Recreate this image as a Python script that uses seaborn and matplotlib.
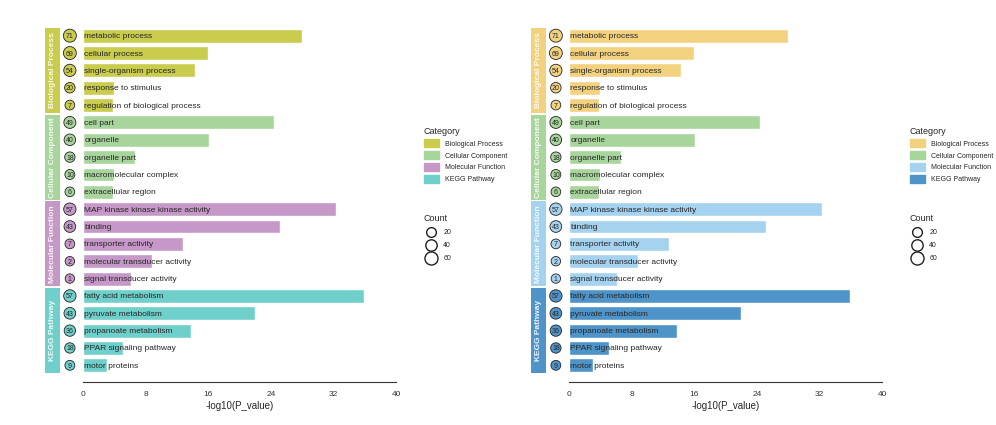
import pandas as pd
import numpy as np
import seaborn as sns
import matplotlib.pyplot as plt
from matplotlib.patches import Patch, Rectangle
from matplotlib.lines import Line2D
import matplotlib.transforms as mtrans

categories = ['Biological Process'] * 5 + ['Cellular Component'] * 5 + \
             ['Molecular Function'] * 5 + ['KEGG Pathway'] * 5
terms = ['metabolic process', 'cellular process', 'single-organism process',
         'response to stimulus', 'regulation of biological process',
         'cell part', 'organelle', 'organelle part', 'macromolecular complex',
         'extracellular region',
         'MAP kinase kinase kinase activity', 'binding', 'transporter activity',
         'molecular transducer activity', 'signal transducer activity',
         'fatty acid metabolism', 'pyruvate metabolism', 'propanoate metabolism',
         'PPAR signaling pathway', 'motor proteins']
log_p = [28.0, 16.0, 14.3, 4.0, 3.8,
         24.4, 16.1, 6.6, 4.0, 3.8,
         32.3, 25.2, 12.8, 8.8, 6.1,
         35.9, 22.0, 13.8, 5.1, 3.1]
counts = [71, 69, 54, 20, 7,
          49, 40, 18, 10, 6,
          57, 43, 7, 2, 1,
          57, 43, 36, 18, 9]
cat_order = ['Biological Process', 'Cellular Component', 'Molecular Function', 'KEGG Pathway']

df = pd.DataFrame({'Category': categories, 'Term': terms, 'logP': log_p, 'Count': counts})

pal1 = ['#c9cc4c', '#a8d59c', '#c598c8', '#6fcfcb']
pal2 = ['#f3d27f', '#a8d59c', '#a5d2ef', '#4f94c8']

sns.set_style('white')
plt.rcParams['font.family'] = ['Liberation Sans', 'DejaVu Sans']

fig = plt.figure(figsize=(9.96, 4.25), dpi=100)


def size_of(c):
    return 45 + c * 0.6


def panel(left_px, pal):
    W, H = 996, 425
    ax = fig.add_axes([left_px / W, 1 - 374 / H, 313 / W, 347 / H])
    sns.barplot(data=df, y='Term', x='logP', hue='Category', hue_order=cat_order,
                palette=pal, dodge=False, width=0.8, legend=False, ax=ax,
                saturation=1)
    ax.set_xlim(0, 40)
    ax.set_ylim(len(df) - 0.5, -0.5)
    ax.set_xticks([0, 8, 16, 24, 32, 40])
    ax.tick_params(axis='x', labelsize=6, length=3, color='#333333', colors='#333333')
    ax.set_yticks([])
    ax.set_ylabel('')
    ax.set_xlabel('-log10(P_value)', fontsize=7, labelpad=2)
    for s in ['top', 'right', 'left']:
        ax.spines[s].set_visible(False)
    ax.spines['bottom'].set_position(('outward', 6))
    ax.spines['bottom'].set_color('#333333')

    cmap = dict(zip(cat_order, pal))
    for i, row in df.iterrows():
        ax.text(0.15, i, row['Term'], va='center_baseline', ha='left', fontsize=6)
    trans = mtrans.blended_transform_factory(ax.transAxes, ax.transData)
    ax.scatter(np.full(len(df), -0.042), np.arange(len(df)), transform=trans,
               s=[size_of(c) for c in df['Count']],
               c=[cmap[c] for c in df['Category']], edgecolors='#222222',
               linewidths=0.6, clip_on=False, zorder=5)
    for i, row in df.iterrows():
        ax.text(-0.042, i, str(row['Count']), transform=trans, ha='center',
                va='center_baseline', fontsize=5, zorder=6)
    for k, cat in enumerate(cat_order):
        ax.add_patch(Rectangle((-0.121, k * 5 - 0.45), 0.048, 4.9, transform=trans,
                               color=pal[k], clip_on=False, lw=0))
        ax.text(-0.097, k * 5 + 2, cat, transform=trans, rotation=90,
                ha='center', va='center', color='white', fontsize=6,
                fontweight='bold', alpha=0.9)

    h1 = [Patch(color=p, label=c) for p, c in zip(pal, cat_order)]
    leg1 = ax.legend(handles=h1, title='Category', loc='upper left',
                     bbox_to_anchor=(1.08, 0.72), frameon=False, fontsize=5,
                     title_fontsize=6.5, handlelength=2.2, handleheight=1.4,
                     alignment='left', borderaxespad=0)
    ax.add_artist(leg1)
    h2 = [Line2D([], [], marker='o', ls='', markerfacecolor='white',
                 markeredgecolor='#222222', markersize=7 + i * 1.2,
                 label=str(c)) for i, c in enumerate([20, 40, 60])]
    ax.legend(handles=h2, title='Count', loc='upper left',
              bbox_to_anchor=(1.08, 0.47), frameon=False, fontsize=5,
              title_fontsize=6.5, alignment='left', borderaxespad=0,
              labelspacing=0.9)


panel(83, pal1)
panel(569, pal2)

fig.savefig('out.png', dpi=100)
